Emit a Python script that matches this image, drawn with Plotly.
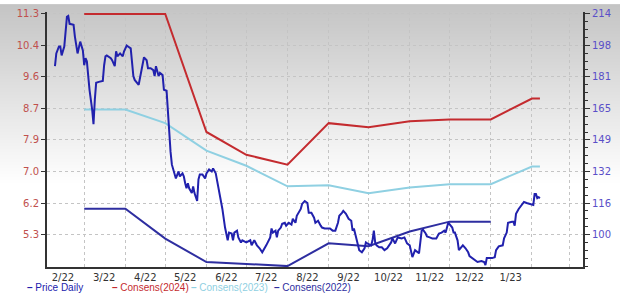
import base64, struct, zlib
import plotly.graph_objects as go

# ---------------- data ----------------
price_dates = [
 "2022-02-07","2022-02-08","2022-02-10","2022-02-11","2022-02-12","2022-02-13","2022-02-14","2022-02-16",
 "2022-02-17","2022-02-18","2022-02-21","2022-02-22","2022-02-23","2022-02-24","2022-02-26","2022-02-27",
 "2022-02-28","2022-03-01","2022-03-02","2022-03-03","2022-03-04","2022-03-05","2022-03-07","2022-03-08",
 "2022-03-09","2022-03-10","2022-03-12","2022-03-15","2022-03-16","2022-03-17","2022-03-18","2022-03-21",
 "2022-03-22","2022-03-24","2022-03-25","2022-03-26","2022-03-28","2022-03-30","2022-03-31","2022-04-02",
 "2022-04-03","2022-04-05","2022-04-07","2022-04-08","2022-04-11","2022-04-14","2022-04-15","2022-04-17",
 "2022-04-18","2022-04-20","2022-04-22","2022-04-23","2022-04-24","2022-04-26","2022-04-27","2022-04-29",
 "2022-04-30","2022-05-02","2022-05-03","2022-05-04","2022-05-05","2022-05-06","2022-05-08","2022-05-09",
 "2022-05-11","2022-05-12","2022-05-14","2022-05-15","2022-05-16","2022-05-17","2022-05-18","2022-05-19",
 "2022-05-21","2022-05-22","2022-05-23","2022-05-25","2022-05-26","2022-05-27","2022-05-29","2022-05-31",
 "2022-06-01","2022-06-03","2022-06-05","2022-06-06","2022-06-08","2022-06-11","2022-06-13","2022-06-15",
 "2022-06-16","2022-06-17","2022-06-18","2022-06-20","2022-06-21","2022-06-22","2022-06-24","2022-06-25",
 "2022-06-27","2022-06-28","2022-07-01","2022-07-04","2022-07-05","2022-07-07","2022-07-09","2022-07-11",
 "2022-07-13","2022-07-15","2022-07-16","2022-07-19","2022-07-20","2022-07-21","2022-07-23","2022-07-24",
 "2022-07-25","2022-07-27","2022-07-28","2022-07-30","2022-07-31","2022-08-02","2022-08-04","2022-08-05",
 "2022-08-07","2022-08-08","2022-08-10","2022-08-11","2022-08-12","2022-08-14","2022-08-16","2022-08-17",
 "2022-08-19","2022-08-21","2022-08-22","2022-08-24","2022-08-26","2022-08-27","2022-08-29","2022-09-02",
 "2022-09-04","2022-09-06","2022-09-08","2022-09-09","2022-09-11","2022-09-12","2022-09-14","2022-09-16",
 "2022-09-18","2022-09-19","2022-09-20","2022-09-22","2022-09-23","2022-09-24","2022-09-26","2022-09-28",
 "2022-09-29","2022-09-30","2022-10-03","2022-10-04","2022-10-05","2022-10-06","2022-10-07","2022-10-09",
 "2022-10-11","2022-10-13","2022-10-15","2022-10-18","2022-10-19","2022-10-21","2022-10-23","2022-10-26",
 "2022-10-28","2022-10-30","2022-11-01","2022-11-03","2022-11-05","2022-11-08","2022-11-10","2022-11-11",
 "2022-11-13","2022-11-14","2022-11-16","2022-11-18","2022-11-21","2022-11-22","2022-11-23","2022-11-25",
 "2022-11-27","2022-11-28","2022-11-30","2022-12-03","2022-12-04","2022-12-05","2022-12-07","2022-12-08",
 "2022-12-10","2022-12-11","2022-12-13","2022-12-15","2022-12-16","2022-12-18","2022-12-20","2022-12-22",
 "2022-12-25","2022-12-27","2022-12-28","2022-12-29","2023-01-02","2023-01-04","2023-01-05","2023-01-07",
 "2023-01-10","2023-01-11","2023-01-13","2023-01-14","2023-01-17","2023-01-18","2023-01-19","2023-01-20",
 "2023-01-22","2023-01-24","2023-01-26","2023-01-28","2023-01-31","2023-02-02","2023-02-03","2023-02-04",
 "2023-02-05","2023-02-06","2023-02-07",
]
price_values = [
 187.0,193.6,197.2,197.2,192.6,195.2,197.2,212.5,
 213.0,208.9,208.4,202.3,197.2,193.6,199.7,197.7,
 195.2,187.5,191.1,189.6,181.9,174.8,164.6,157.0,
 169.7,178.4,178.9,179.4,187.5,192.1,192.6,191.1,
 190.1,187.0,194.7,192.1,193.6,192.1,194.7,197.7,
 197.2,196.2,181.9,179.9,177.4,187.0,191.6,190.1,
 186.0,186.0,185.0,181.9,187.0,181.9,183.5,182.4,
 174.8,174.3,163.1,149.4,142.7,136.1,131.6,129.0,
 132.6,130.0,131.6,130.0,126.5,123.9,126.5,123.9,
 121.4,124.9,121.4,117.3,128.5,131.0,131.0,129.0,
 131.6,133.6,132.6,134.1,131.6,120.9,113.2,103.6,
 101.0,97.0,101.0,100.5,97.0,101.0,102.0,98.5,
 95.9,97.0,95.9,97.0,94.4,97.0,94.4,92.9,
 90.8,92.9,94.4,98.5,103.1,101.0,102.0,98.5,
 102.0,103.6,105.6,106.1,104.6,106.1,105.1,108.1,
 106.1,109.7,112.2,113.2,115.8,117.3,116.3,111.2,
 111.2,108.7,106.1,107.1,104.6,103.6,103.1,103.1,
 102.0,102.0,106.1,109.7,111.2,112.2,110.7,108.1,
 107.1,102.0,103.1,97.0,93.4,91.9,90.8,92.9,
 95.9,95.4,94.4,97.0,102.0,95.9,94.4,93.4,
 93.4,91.9,92.9,95.9,98.0,95.4,98.5,98.0,
 98.5,95.4,94.4,88.3,91.9,90.3,102.0,102.5,
 100.5,99.0,98.5,98.0,98.0,99.5,100.5,101.0,
 102.0,101.0,106.1,103.6,101.0,101.0,97.0,91.9,
 93.4,94.4,92.9,90.8,88.8,87.8,86.8,85.8,
 86.3,85.8,84.2,87.8,87.8,88.3,91.9,93.9,
 94.4,98.0,101.0,106.1,106.6,106.6,104.6,110.7,
 113.2,115.3,116.8,116.3,115.8,115.3,120.9,120.9,
 118.8,119.3,118.8,
]

cons_dates = ["2022-03-01","2022-04-01","2022-05-01","2022-06-01","2022-07-01","2022-08-01","2022-09-01",
              "2022-10-01","2022-11-01","2022-12-01","2023-01-01","2023-02-01","2023-02-07"]
cons_2024 = [11.30, 11.30, 11.30, 8.09, 7.47, 7.20, 8.33, 8.22, 8.38, 8.43, 8.43, 9.00, 9.00]
cons_2023 = [8.70, 8.70, 8.33, 7.58, 7.17, 6.61, 6.64, 6.42, 6.58, 6.67, 6.67, 7.15, 7.15]
cons_2022 = [6.00, 6.00, 5.19, 4.55, 4.50, 4.44, 5.06, 4.98, 5.38, 5.65, 5.65, None, None]

left_ticks = [11.3 - k * 6 / 7 for k in range(8)]
left_labels = ["11.3", "10.4", "9.6", "8.7", "7.9", "7.0", "6.2", "5.3"]
right_ticks = [214 - k * 114 / 7 for k in range(8)]
right_labels = ["214", "198", "181", "165", "149", "132", "116", "100"]
right_minor = [214 - k * 114 / 28 for k in range(33)]

x_label_pos = ["2022-02-13","2022-03-16","2022-04-16","2022-05-16","2022-06-16","2022-07-16","2022-08-16",
               "2022-09-16","2022-10-16","2022-11-16","2022-12-16","2023-01-16"]
x_labels = ["2/22","3/22","4/22","5/22","6/22","7/22","8/22","9/22","10/22","11/22","12/22","1/23"]
month_starts = ["2022-03-01","2022-04-01","2022-05-01","2022-06-01","2022-07-01","2022-08-01","2022-09-01",
                "2022-10-01","2022-11-01","2022-12-01","2023-01-01","2023-02-01","2023-03-01"]

# ---------------- style ----------------
W, H = 620, 294
ML, MR, MT, MB = 47, 37, 8, 27
PW, PH = W - ML - MR, H - MT - MB

C_PRICE = "#2121ad"
C_2024 = "#c42b2f"
C_2023 = "#8fd0e2"
C_2022 = "#2e2ea0"


def gradient_png(h):
    rows = []
    for i in range(h):
        t = min(1.0, i / (h * 0.62))
        v = int(round(196 + (255 - 196) * t))
        rows.append(b"\x00" + bytes([v, v, v]))
    raw = b"".join(rows)

    def chunk(tag, data):
        c = struct.pack(">I", len(data)) + tag + data
        return c + struct.pack(">I", zlib.crc32(tag + data) & 0xffffffff)

    png = b"\x89PNG\r\n\x1a\n" + chunk(b"IHDR", struct.pack(">IIBBBBB", 1, h, 8, 2, 0, 0, 0)) \
        + chunk(b"IDAT", zlib.compress(raw)) + chunk(b"IEND", b"")
    return "data:image/png;base64," + base64.b64encode(png).decode()


fig = go.Figure()
fig.add_trace(go.Scatter(x=price_dates, y=price_values, mode="lines", yaxis="y2",
                         line=dict(color=C_PRICE, width=2), name="Price Daily"))
fig.add_trace(go.Scatter(x=cons_dates, y=cons_2024, mode="lines",
                         line=dict(color=C_2024, width=2), name="Consens(2024)"))
fig.add_trace(go.Scatter(x=cons_dates, y=cons_2023, mode="lines",
                         line=dict(color=C_2023, width=2), name="Consens(2023)"))
fig.add_trace(go.Scatter(x=cons_dates, y=cons_2022, mode="lines",
                         line=dict(color=C_2022, width=2), name="Consens(2022)"))

L_lo = 5.3 - 33 / 224 * 6
L_hi = 11.3 + 2 / 224 * 6
R_lo = 100 - 33 / 224 * 114
R_hi = 214 + 2 / 224 * 114

fig.update_layout(
    width=W, height=H,
    margin=dict(l=ML, r=MR, t=MT, b=MB),
    paper_bgcolor="white",
    plot_bgcolor="rgba(0,0,0,0)",
    showlegend=False,
    font=dict(family="DejaVu Sans", size=10, color="#333333"),
    xaxis=dict(
        type="date", range=["2022-02-01", "2023-03-11 10:00"],
        tickmode="array", tickvals=x_label_pos, ticktext=x_labels,
        showgrid=False, ticks="", zeroline=False,
        showline=True, linecolor="#333333", linewidth=2,
        tickfont=dict(family="DejaVu Sans", size=10, color="#333333"),
        minor=dict(tickvals=month_starts, showgrid=True, griddash="dot",
                   gridcolor="#c4c4c4", gridwidth=1, ticks=""),
    ),
    yaxis=dict(
        range=[L_lo, L_hi], tickmode="array", tickvals=left_ticks, ticktext=left_labels,
        showgrid=True, griddash="dot", gridcolor="#c4c4c4", gridwidth=1, zeroline=False,
        showline=True, linecolor="#333333", linewidth=2,
        ticks="outside", ticklen=4, tickcolor="#333333", tickwidth=1,
        tickfont=dict(family="DejaVu Sans", size=10, color="#c0504d"),
    ),
    yaxis2=dict(
        range=[R_lo, R_hi], overlaying="y", side="right",
        tickmode="array", tickvals=right_ticks, ticktext=right_labels,
        showgrid=False, zeroline=False,
        showline=True, linecolor="#333333", linewidth=2,
        ticks="outside", ticklen=5, tickcolor="#333333", tickwidth=1,
        minor=dict(tickvals=right_minor, ticks="outside", ticklen=3, tickcolor="#333333", showgrid=False),
        tickfont=dict(family="DejaVu Sans", size=10, color="#5a4fc8"),
    ),
    images=[dict(source=gradient_png(H), xref="paper", yref="paper",
                 x=-ML / PW, y=1 + MT / PH, sizex=W / PW, sizey=H / PH,
                 xanchor="left", yanchor="top", sizing="stretch", layer="below")],
)

legend_items = [("Price Daily", C_PRICE, 25), ("Consens(2024)", C_2024, 110),
                ("Consens(2023)", C_2023, 189), ("Consens(2022)", C_2022, 272)]
for text, col, px in legend_items:
    fig.add_annotation(text="<b>–</b> " + text, xref="paper", yref="paper",
                       x=(px - ML) / PW, y=(MT + PH - 288) / PH + 0.0,
                       xanchor="left", yanchor="middle", showarrow=False,
                       font=dict(family="Liberation Sans", size=10, color=col))

fig.write_html("out.html")
